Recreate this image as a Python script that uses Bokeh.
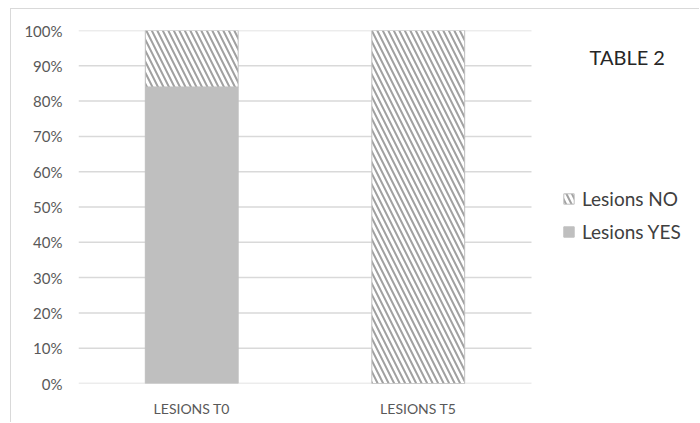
from bokeh.plotting import figure
from bokeh.models import Legend, LegendItem, Label, NumeralTickFormatter, FixedTicker, Range1d
from bokeh.embed import file_html
from bokeh.resources import INLINE

categories = ["LESIONS T0", "LESIONS T5"]
lesions_yes = [0.84, 0.0]
lesions_no = [0.16, 1.0]
y_ticks = [0, 0.1, 0.2, 0.3, 0.4, 0.5, 0.6, 0.7, 0.8, 0.9, 1.0]

FONT = "Lato"
n = len(categories)
xs = [i + 0.5 for i in range(n)]
bottoms_no = lesions_yes
tops_no = [a + b for a, b in zip(lesions_yes, lesions_no)]

# frame: plot area of 453 px for the categories, extended to the right for legend/title
plot_px = 453.0
frame_px = 689 - 67
x_end = n * frame_px / plot_px

p = figure(x_range=Range1d(0, x_end), y_range=Range1d(0, 1),
           width=689, height=414, output_backend="svg", toolbar_location=None,
           min_border_left=67, min_border_right=0, min_border_top=21, min_border_bottom=40)
p.styles = {"margin-left": "10px", "margin-top": "8px",
            "border-left": "1px solid #d9d9d9", "border-top": "1px solid #d9d9d9"}
p.outline_line_color = None
p.background_fill_color = "white"

# horizontal gridlines limited to the category area
p.segment(x0=[0] * len(y_ticks), x1=[n] * len(y_ticks), y0=y_ticks, y1=y_ticks,
          line_color="#d9d9d9", line_width=1.5)

r_yes = p.vbar(x=xs, top=lesions_yes, bottom=0, width=0.41,
               fill_color="#bfbfbf", line_color="#bfbfbf", line_width=1)
r_no = p.vbar(x=xs, top=tops_no, bottom=bottoms_no, width=0.41,
              fill_color="white", line_color="#bfbfbf", line_width=1,
              hatch_pattern="\\", hatch_color="#a0a0a0", hatch_scale=11, hatch_weight=2)

p.xaxis.ticker = FixedTicker(ticks=xs)
p.xaxis.major_label_overrides = {x: c for x, c in zip(xs, categories)}
p.yaxis.ticker = FixedTicker(ticks=y_ticks)
p.yaxis.formatter = NumeralTickFormatter(format="0%")
for ax in (p.xaxis[0], p.yaxis[0]):
    ax.axis_line_color = None
    ax.major_tick_line_color = None
    ax.minor_tick_line_color = None
    ax.major_label_text_font = FONT
    ax.major_label_text_color = "#595959"
p.yaxis.major_label_text_font_size = "15px"
p.xaxis.major_label_text_font_size = "14px"
p.yaxis.major_label_standoff = 10
p.xaxis.major_label_standoff = 10

p.xgrid.grid_line_color = None
p.ygrid.grid_line_color = None

legend = Legend(items=[LegendItem(label="Lesions NO", renderers=[r_no]),
                       LegendItem(label="Lesions YES", renderers=[r_yes])],
                location=(484, 140), orientation="vertical",
                label_text_font=FONT, label_text_font_size="19px", label_text_color="#404040",
                glyph_width=13, glyph_height=13, label_standoff=7, spacing=10,
                padding=0, margin=0, border_line_color=None, background_fill_alpha=0)
p.add_layout(legend, "center")

title = Label(x=511, y=327, x_units="screen", y_units="screen", text="TABLE 2",
              text_font=FONT, text_font_size="20px", text_color="#262626",
              text_baseline="middle")
p.add_layout(title)

open("out.html", "w").write(file_html(p, INLINE))
